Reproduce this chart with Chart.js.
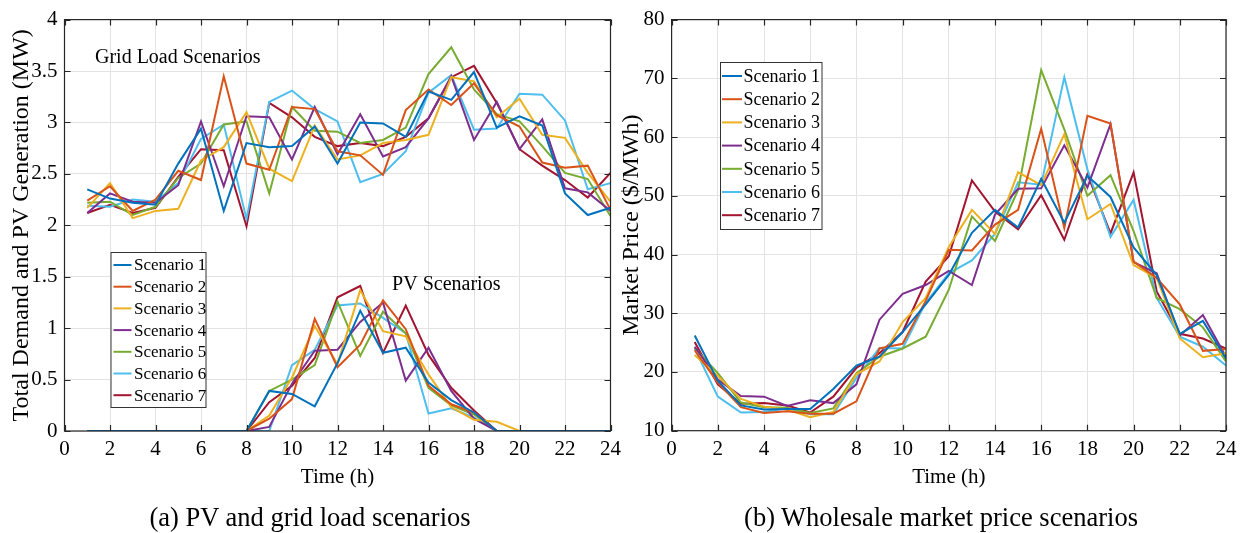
<!DOCTYPE html>
<html>
<head>
<meta charset="utf-8">
<script src="https://cdn.jsdelivr.net/npm/chart.js@4.4.1/dist/chart.umd.min.js"></script>
<style>
  body { margin: 0; background: #fff; width: 1245px; height: 533px; position: relative; overflow: hidden; font-family: "Liberation Serif", serif; }
  canvas { position: absolute; top: 0; }
  #loadChart { left: 0; }
  #priceChart { left: 615px; }
  .caption { position: absolute; top: 502px; font-size: 26.5px; color: #000; white-space: nowrap; transform: translateX(-50%); }
</style>
</head>
<body>
<canvas id="loadChart" width="630" height="533"></canvas>
<canvas id="priceChart" width="630" height="533"></canvas>
<div class="caption" style="left:310px">(a) PV and grid load scenarios</div>
<div class="caption" style="left:941px">(b) Wholesale market price scenarios</div>
<script>
const hours = [1, 2, 3, 4, 5, 6, 7, 8, 9, 10, 11, 12, 13, 14, 15, 16, 17, 18, 19, 20, 21, 22, 23, 24];
const scenarios = ["Scenario 1", "Scenario 2", "Scenario 3", "Scenario 4", "Scenario 5", "Scenario 6", "Scenario 7"];
const colors = ["#0072BD", "#D95319", "#EDB120", "#7E2F8E", "#77AC30", "#4DBEEE", "#A2142F"];

// grid load (MW)
const load1 = [2.35, 2.26, 2.22, 2.20, 2.60, 2.94, 2.14, 2.80, 2.76, 2.77, 2.96, 2.60, 3.00, 2.99, 2.86, 3.30, 3.22, 3.49, 2.95, 3.06, 2.97, 2.31, 2.10, 2.17];
const load2 = [2.24, 2.38, 2.14, 2.25, 2.53, 2.44, 3.45, 2.60, 2.54, 3.15, 3.13, 2.72, 2.68, 2.49, 3.12, 3.32, 3.17, 3.38, 3.07, 2.96, 2.61, 2.56, 2.58, 2.15];
const load3 = [2.17, 2.41, 2.07, 2.14, 2.16, 2.63, 2.76, 3.10, 2.55, 2.43, 2.97, 2.64, 2.68, 2.80, 2.83, 2.88, 3.44, 3.40, 3.05, 3.23, 2.88, 2.85, 2.51, 2.23];
const load4 = [2.12, 2.31, 2.23, 2.22, 2.39, 3.01, 2.38, 3.06, 3.05, 2.64, 3.15, 2.69, 3.08, 2.67, 2.76, 3.04, 3.45, 2.83, 3.20, 2.74, 3.03, 2.36, 2.32, 2.14];
const load5 = [2.22, 2.23, 2.10, 2.18, 2.46, 2.60, 2.98, 3.01, 2.31, 3.15, 2.92, 2.91, 2.80, 2.83, 2.95, 3.47, 3.73, 3.32, 3.08, 3.01, 2.77, 2.51, 2.45, 2.09];
const load6 = [2.19, 2.18, 2.25, 2.23, 2.41, 2.84, 2.98, 2.06, 3.20, 3.31, 3.13, 3.01, 2.42, 2.50, 2.72, 3.29, 3.46, 2.93, 2.94, 3.28, 3.27, 3.02, 2.35, 2.41];
const load7 = [2.12, 2.20, 2.12, 2.17, 2.47, 2.74, 2.73, 1.99, 3.19, 3.05, 2.86, 2.77, 2.80, 2.77, 2.86, 3.04, 3.44, 3.55, 3.19, 2.74, 2.58, 2.44, 2.27, 2.51];

// PV generation (MW)
const pv1 = [0, 0, 0, 0, 0, 0, 0, 0, 0.39, 0.36, 0.24, 0.66, 1.17, 0.76, 0.81, 0.47, 0.30, 0.18, 0, 0, 0, 0, 0, 0];
const pv2 = [0, 0, 0, 0, 0, 0, 0, 0, 0.12, 0.31, 1.09, 0.62, 0.84, 1.27, 0.99, 0.44, 0.26, 0.18, 0, 0, 0, 0, 0, 0];
const pv3 = [0, 0, 0, 0, 0, 0, 0, 0, 0.15, 0.52, 1.02, 0.65, 1.37, 0.97, 0.92, 0.55, 0.23, 0.11, 0.09, 0, 0, 0, 0, 0];
const pv4 = [0, 0, 0, 0, 0, 0, 0, 0, 0.04, 0.46, 0.78, 0.79, 1.06, 1.25, 0.49, 0.81, 0.39, 0.12, 0, 0, 0, 0, 0, 0];
const pv5 = [0, 0, 0, 0, 0, 0, 0, 0, 0.39, 0.50, 0.64, 1.26, 0.73, 1.16, 0.95, 0.42, 0.25, 0.16, 0, 0, 0, 0, 0, 0];
const pv6 = [0, 0, 0, 0, 0, 0, 0, 0, 0, 0.64, 0.79, 1.22, 1.24, 1.10, 0.95, 0.17, 0.22, 0.13, 0, 0, 0, 0, 0, 0];
const pv7 = [0, 0, 0, 0, 0, 0, 0, 0, 0.28, 0.44, 0.71, 1.30, 1.41, 0.76, 1.22, 0.74, 0.42, 0.20, 0, 0, 0, 0, 0, 0];

// wholesale market price ($/MWh)
const price1 = [26.2, 18.5, 14.3, 13.6, 13.7, 13.7, 17.1, 21.1, 22.6, 26.8, 31.5, 36.5, 43.7, 47.6, 44.6, 52.9, 45.4, 53.4, 49.8, 41.2, 36.5, 26.5, 28.7, 22.3];
const price2 = [23.7, 18.2, 14.0, 13.0, 13.3, 12.9, 12.9, 15.0, 24.0, 24.8, 32.1, 40.8, 40.7, 45.1, 47.6, 61.4, 44.5, 63.6, 62.3, 38.8, 36.0, 31.5, 23.6, 23.9];
const price3 = [22.9, 19.3, 15.4, 14.1, 13.6, 12.3, 13.2, 19.6, 21.8, 28.5, 32.6, 41.3, 47.6, 43.5, 54.0, 51.8, 60.5, 46.0, 48.6, 38.2, 36.0, 25.7, 22.5, 23.2];
const price4 = [24.3, 18.7, 15.9, 15.8, 14.2, 15.2, 14.7, 17.9, 28.9, 33.3, 34.8, 37.2, 34.8, 46.8, 51.2, 51.3, 58.6, 51.4, 62.2, 38.7, 36.8, 26.2, 29.7, 22.6];
const price5 = [24.1, 19.8, 14.8, 14.0, 13.9, 13.0, 13.8, 19.8, 22.6, 24.0, 26.0, 34.0, 46.5, 42.3, 51.0, 71.4, 61.3, 50.0, 53.5, 44.0, 32.6, 30.7, 27.6, 21.8];
const price6 = [24.0, 15.8, 13.1, 13.2, 13.8, 12.8, 12.8, 19.0, 24.1, 24.0, 31.8, 36.8, 39.0, 43.5, 52.3, 51.9, 70.2, 54.5, 43.0, 49.3, 32.6, 26.0, 24.3, 21.1];
const price7 = [25.1, 17.9, 14.6, 14.7, 14.3, 13.1, 15.8, 20.7, 23.2, 26.8, 35.4, 39.7, 52.6, 47.3, 44.3, 50.1, 42.5, 53.7, 43.6, 54.0, 33.7, 26.5, 25.7, 24.0];

const loads = [load1, load2, load3, load4, load5, load6, load7];
const pvs = [pv1, pv2, pv3, pv4, pv5, pv6, pv7];
const prices = [price1, price2, price3, price4, price5, price6, price7];

const serif = "'Liberation Serif', 'Times New Roman', serif";
const axisColor = "#262626";
const gridColor = "#e3e3e3";

function toPoints(values) {
  return values.map((v, i) => ({ x: hours[i], y: v }));
}

function makeSet(values, i) {
  return {
    label: scenarios[i],
    data: toPoints(values),
    borderColor: colors[i],
    backgroundColor: colors[i],
    borderWidth: 2,
    pointRadius: 0,
    tension: 0,
    fill: false
  };
}

// box around the plot with MATLAB style inward ticks
const boxPlugin = {
  id: "box",
  afterDatasetsDraw(chart) {
    const { ctx, chartArea: a, scales: { x, y } } = chart;
    const len = 6;
    ctx.save();
    ctx.strokeStyle = axisColor;
    ctx.lineWidth = 1.2;
    ctx.strokeRect(a.left, a.top, a.right - a.left, a.bottom - a.top);
    ctx.beginPath();
    x.ticks.forEach(t => {
      const px = Math.round(x.getPixelForValue(t.value)) + 0.5;
      ctx.moveTo(px, a.bottom); ctx.lineTo(px, a.bottom - len);
      ctx.moveTo(px, a.top); ctx.lineTo(px, a.top + len);
    });
    y.ticks.forEach(t => {
      const py = Math.round(y.getPixelForValue(t.value)) + 0.5;
      ctx.moveTo(a.left, py); ctx.lineTo(a.left + len, py);
      ctx.moveTo(a.right, py); ctx.lineTo(a.right - len, py);
    });
    ctx.stroke();
    ctx.restore();
  }
};

// legend box inside the plot
const boxLegend = {
  id: "boxLegend",
  afterDraw(chart, args, opts) {
    const { ctx } = chart;
    ctx.save();
    ctx.fillStyle = "#fff";
    ctx.fillRect(opts.left, opts.top, opts.width, opts.height);
    ctx.strokeStyle = "#333";
    ctx.lineWidth = 1;
    ctx.strokeRect(opts.left + 0.5, opts.top + 0.5, opts.width, opts.height);
    ctx.font = opts.fontSize + "px " + serif;
    ctx.textBaseline = "middle";
    ctx.textAlign = "left";
    for (let i = 0; i < scenarios.length; i++) {
      const cy = opts.firstRow + i * opts.rowH;
      ctx.strokeStyle = colors[i];
      ctx.lineWidth = 2;
      ctx.beginPath();
      ctx.moveTo(opts.left + opts.sample[0], cy);
      ctx.lineTo(opts.left + opts.sample[1], cy);
      ctx.stroke();
      ctx.fillStyle = "#000";
      ctx.fillText(scenarios[i], opts.left + opts.textX, cy + 1);
    }
    ctx.restore();
  }
};

// free text placed at data coordinates
const notes = {
  id: "notes",
  afterDatasetsDraw(chart, args, opts) {
    const { ctx, scales: { x, y } } = chart;
    ctx.save();
    ctx.font = "20px " + serif;
    ctx.fillStyle = "#000";
    ctx.textAlign = "left";
    ctx.textBaseline = "middle";
    (opts.items || []).forEach(n => {
      ctx.fillText(n.text, x.getPixelForValue(n.x), y.getPixelForValue(n.y));
    });
    ctx.restore();
  }
};

function axes(yMin, yMax, yStep, yTitle, yWidth, yTitlePad, xHeight) {
  return {
    x: {
      type: "linear", min: 0, max: 24,
      ticks: { stepSize: 2, color: "#000", font: { family: serif, size: 21 }, padding: 6, maxRotation: 0 },
      grid: { color: gridColor, drawTicks: false },
      border: { display: false },
      title: { display: true, text: "Time (h)", color: "#000", font: { family: serif, size: 21 }, padding: { top: 0, bottom: 42.5 } },
      afterFit: s => { s.height = xHeight; }
    },
    y: {
      type: "linear", min: yMin, max: yMax,
      ticks: { stepSize: yStep, color: "#000", font: { family: serif, size: 21 }, padding: 7, callback: v => String(+v.toFixed(2)) },
      grid: { color: gridColor, drawTicks: false },
      border: { display: false },
      title: { display: true, text: yTitle, color: "#000", font: { family: serif, size: 24 }, padding: { top: yTitlePad, bottom: 0 } },
      afterFit: s => { s.width = yWidth; }
    }
  };
}

const loadSets = loads.map(makeSet).concat(pvs.map(makeSet));

new Chart(document.getElementById("loadChart"), {
  type: "line",
  data: { datasets: loadSets },
  options: {
    responsive: false,
    animation: false,
    devicePixelRatio: 1,
    layout: { padding: { top: 14.5, right: 19.5, left: 0, bottom: 0 } },
    scales: axes(0, 4, 0.5, "Total Demand and PV Generation (MW)", 64.5, 7.5, 102),
    plugins: {
      legend: { display: false },
      tooltip: { enabled: false },
      boxLegend: { left: 110.5, top: 252, width: 95, height: 155, firstRow: 265, rowH: 21.7, sample: [3, 21], textX: 23.5, fontSize: 17 },
      notes: { items: [{ text: "Grid Load Scenarios", x: 1.34, y: 3.63 }, { text: "PV Scenarios", x: 14.4, y: 1.42 }] }
    }
  },
  plugins: [boxPlugin, boxLegend, notes]
});

new Chart(document.getElementById("priceChart"), {
  type: "line",
  data: { datasets: prices.map(makeSet) },
  options: {
    responsive: false,
    animation: false,
    devicePixelRatio: 1,
    layout: { padding: { top: 10.7, right: 19, left: 0, bottom: 0 } },
    scales: axes(10, 80, 10, "Market Price ($/MWh)", 56.6, 2.6, 102.3),
    plugins: {
      legend: { display: false },
      tooltip: { enabled: false },
      boxLegend: { left: 105, top: 62, width: 101.5, height: 167, firstRow: 76, rowH: 23.2, sample: [2, 22], textX: 23.5, fontSize: 18 },
      notes: { items: [] }
    }
  },
  plugins: [boxPlugin, boxLegend, notes]
});
</script>
</body>
</html>
